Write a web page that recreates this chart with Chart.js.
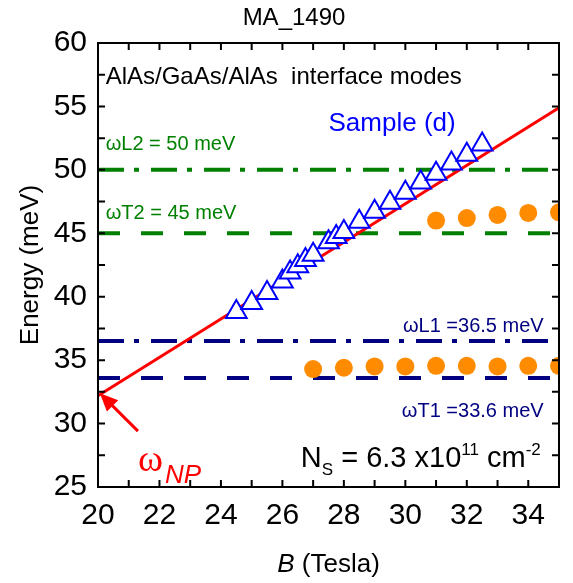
<!DOCTYPE html>
<html>
<head>
<meta charset="utf-8">
<script src="https://cdn.jsdelivr.net/npm/chart.js@4"></script>
<style>
html,body{margin:0;padding:0;background:#fff;}
#wrap{width:573px;height:583px;}
</style>
</head>
<body>
<div id="wrap"><canvas id="myChart" width="573" height="583"></canvas></div>
<script>
// values: B in Tesla, E in meV
var triB = [24.5, 25.0, 25.5, 26.0, 26.25, 26.5, 26.75, 27.0, 27.5, 27.75, 28.0, 28.5, 29.0, 29.5, 30.0, 30.5, 31.0, 31.5, 32.0, 32.5];
var triE = [38.8, 39.5, 40.3, 41.2, 41.9, 42.4, 42.9, 43.3, 44.3, 44.7, 45.1, 45.9, 46.7, 47.4, 48.2, 49.0, 49.7, 50.5, 51.2, 52.0];

var dotHiB = [31, 32, 33, 34, 35];
var dotHiE = [46.0, 46.2, 46.45, 46.6, 46.65];

var dotLoB = [27, 28, 29, 30, 31, 32, 33, 34, 35];
var dotLoE = [34.3, 34.4, 34.5, 34.5, 34.55, 34.55, 34.5, 34.55, 34.55];

// magnetopolaron line (omega_NP)
var npB = [20, 35];
var npE = [32.2, 54.9];

// phonon energies
var lineB = [20, 35];
var wL2 = 50, wT2 = 45, wL1 = 36.5, wT1 = 33.6;

var green = "#008000";
var navy = "#000080";
var font = "'Liberation Sans', Arial, sans-serif";

function pts(xs, ys) {
  return xs.map(function (x, i) { return { x: x, y: ys[i] }; });
}
function flat(v) {
  return lineB.map(function (x) { return { x: x, y: v }; });
}
function hline(v, color, dash, ord) {
  return {
    data: flat(v), showLine: true, borderColor: color, borderWidth: 4,
    borderDash: dash, pointRadius: 0, clip: 0, order: ord
  };
}

//text, arrow, inward ticks and frame
var extras = {
  id: "extras",
  afterDatasetsDraw: function (chart) {
    var ctx = chart.ctx, a = chart.chartArea;
    var xs = chart.scales.x, ys = chart.scales.y;
    function px(v) { return xs.getPixelForValue(v); }
    function py(v) { return ys.getPixelForValue(v); }

    ctx.save();
    ctx.strokeStyle = "#000";
    ctx.lineWidth = 2;
    ctx.beginPath();
    xs.ticks.forEach(function (t) {
      var p = px(t.value);
      ctx.moveTo(p, a.bottom); ctx.lineTo(p, a.bottom - 7);
      ctx.moveTo(p, a.top); ctx.lineTo(p, a.top + 7);
    });
    ys.ticks.forEach(function (t) {
      var p = py(t.value);
      ctx.moveTo(a.left, p); ctx.lineTo(a.left + 7, p);
      ctx.moveTo(a.right, p); ctx.lineTo(a.right - 7, p);
    });
    ctx.stroke();
    ctx.strokeRect(a.left, a.top, a.right - a.left, a.bottom - a.top);

    function txt(s, x, y, f, c, al) {
      ctx.font = f; ctx.fillStyle = c; ctx.textAlign = al || "left";
      ctx.textBaseline = "alphabetic";
      ctx.fillText(s, x, y);
      return ctx.measureText(s).width;
    }

    // title and axis titles
    txt("MA_1490", 294, 25, "24px " + font, "#000", "center");
    var w1 = txt("B", 0, -100, "italic 26px " + font, "#000");
    var w2 = txt(" (Tesla)", 0, -100, "26px " + font, "#000");
    var bx = (a.left + a.right) / 2 - (w1 + w2) / 2;
    txt("B", bx, 572, "italic 26px " + font, "#000");
    txt(" (Tesla)", bx + w1, 572, "26px " + font, "#000");
    ctx.save();
    ctx.translate(38, (a.top + a.bottom) / 2);
    ctx.rotate(-Math.PI / 2);
    txt("Energy (meV)", 0, 0, "26px " + font, "#000", "center");
    ctx.restore();

    // labels
    txt("AlAs/GaAs/AlAs  interface modes", px(20.25), py(56.8), "24px " + font, "#000");
    txt("Sample (d)", px(27.5), py(53.1), "26px " + font, "#0000ff");
    txt("\u03c9L2 = 50 meV", px(20.25), py(51.6), "20px " + font, green);
    txt("\u03c9T2 = 45 meV", px(20.25), py(46.1), "20px " + font, green);
    txt("\u03c9L1 =36.5 meV", px(34.5), py(37.2), "20px " + font, navy, "right");
    txt("\u03c9T1 =33.6 meV", px(34.5), py(30.5), "20px " + font, navy, "right");

    // carrier density
    var x = px(26.6), yb = py(26.6);
    x += txt("N", x, yb, "29px " + font, "#000");
    x += txt("S", x, yb + 8, "17px " + font, "#000");
    x += txt(" = 6.3 x10", x, yb, "29px " + font, "#000");
    x += txt("11", x, yb - 12, "17px " + font, "#000");
    x += txt(" cm", x, yb, "29px " + font, "#000");
    txt("-2", x, yb - 12, "17px " + font, "#000");

    // omega_NP with arrow
    var wx = px(21.3), wy = py(26.3);
    var ww = txt("\u03c9", wx, wy, "38px 'Liberation Serif', 'Times New Roman', serif", "#ff0000");
    txt("NP", wx + ww + 2, wy + 12, "italic 26px " + font, "#ff0000");

    var tx = px(21.3), ty = py(29.4), hx = px(20.06), hy = py(32.4);
    var ang = Math.atan2(hy - ty, hx - tx);
    ctx.strokeStyle = "#ff0000"; ctx.fillStyle = "#ff0000"; ctx.lineWidth = 3;
    ctx.beginPath();
    ctx.moveTo(tx, ty);
    ctx.lineTo(hx - 12 * Math.cos(ang), hy - 12 * Math.sin(ang));
    ctx.stroke();
    ctx.beginPath();
    ctx.moveTo(hx, hy);
    ctx.lineTo(hx - 18 * Math.cos(ang) + 8 * Math.sin(ang), hy - 18 * Math.sin(ang) - 8 * Math.cos(ang));
    ctx.lineTo(hx - 18 * Math.cos(ang) - 8 * Math.sin(ang), hy - 18 * Math.sin(ang) + 8 * Math.cos(ang));
    ctx.closePath();
    ctx.fill();
    ctx.restore();
  }
};

const myChart = new Chart("myChart", {
  type: "scatter",
  data: {
    datasets: [
      hline(wL2, green, [26, 10, 5, 12], 10),
      hline(wT2, green, [22, 21], 10),
      hline(wL1, navy, [26, 10, 5, 12], 10),
      hline(wT1, navy, [22, 21], 10),
      {
        data: pts(npB, npE), showLine: true, borderColor: "#ff0000", borderWidth: 3,
        pointRadius: 0, clip: 0, order: 5
      },
      {
        data: pts(triB, triE), pointStyle: "triangle", pointRadius: 12,
        pointBackgroundColor: "#ffffff", pointBorderColor: "#0000ff", pointBorderWidth: 2,
        clip: 0, order: 2
      },
      {
        data: pts(dotHiB, dotHiE), pointRadius: 9, pointBackgroundColor: "#ff8c00",
        pointBorderWidth: 0, clip: 0, order: 1
      },
      {
        data: pts(dotLoB, dotLoE), pointRadius: 9, pointBackgroundColor: "#ff8c00",
        pointBorderWidth: 0, clip: 0, order: 1
      }
    ]
  },
  options: {
    responsive: false,
    animation: false,
    events: [],
    layout: { padding: { top: 43, right: 13, left: 0, bottom: 0 } },
    plugins: { legend: { display: false }, tooltip: { enabled: false } },
    scales: {
      x: {
        type: "linear", min: 20, max: 35,
        grid: { display: false, drawTicks: false }, border: { display: false },
        ticks: {
          stepSize: 1, autoSkip: false, maxRotation: 0, padding: 11, color: "#000",
          font: { family: font, size: 30 },
          callback: function (v) { return v % 2 === 0 ? v : ""; }
        },
        afterFit: function (s) { s.height = 96; }
      },
      y: {
        type: "linear", min: 25, max: 60,
        grid: { display: false, drawTicks: false }, border: { display: false },
        ticks: {
          stepSize: 2.5, autoSkip: false, padding: 11, color: "#000",
          font: { family: font, size: 30 },
          callback: function (v) { return v % 5 === 0 ? v : ""; }
        },
        afterFit: function (s) { s.width = 98; }
      }
    }
  },
  plugins: [extras]
});
</script>
</body>
</html>
